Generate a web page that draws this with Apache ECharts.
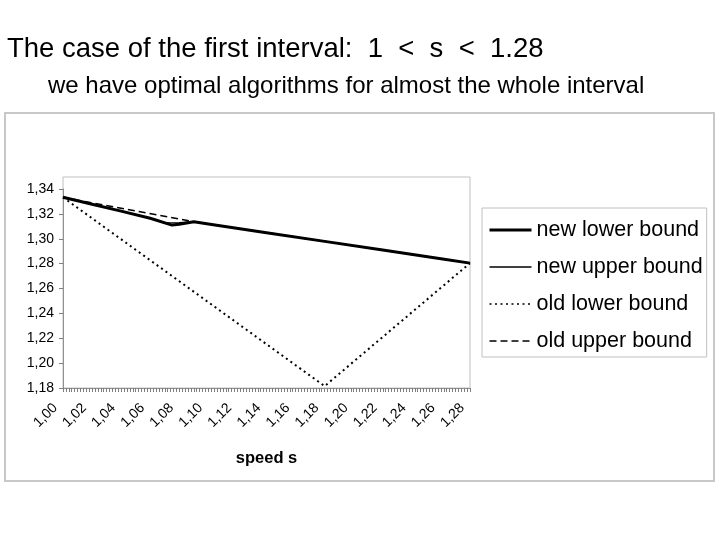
<!DOCTYPE html>
<html lang="en">
<head>
    <meta charset="UTF-8">
    <title>first interval</title>
    <script src="https://cdn.jsdelivr.net/npm/echarts@6/dist/echarts.min.js"></script>
    <style>
        body { margin: 0; background: #fff; }
        #main { width: 720px; height: 540px; }
    </style>
</head>
<body>
<div id="main"></div>
<script type="text/javascript">
    // speed s on the x axis, bound value on the y axis
    var newLowerS = [1.00, 1.01, 1.02, 1.04, 1.06, 1.075, 1.08, 1.09, 1.10, 1.14, 1.18, 1.22, 1.26, 1.28];
    var newLower  = [1.3333, 1.3305, 1.3278, 1.3222, 1.3165, 1.3110, 1.3116, 1.3136, 1.3119, 1.3049, 1.2979, 1.2909, 1.2839, 1.2804];

    var newUpperS = [1.00, 1.01, 1.02, 1.04, 1.06, 1.07, 1.08, 1.09, 1.10, 1.14, 1.18, 1.22, 1.26, 1.28];
    var newUpper  = [1.3333, 1.3305, 1.3278, 1.3222, 1.3165, 1.3128, 1.3130, 1.3137, 1.3119, 1.3049, 1.2979, 1.2909, 1.2839, 1.2804];

    var oldLowerS = [1.00, 1.18, 1.28];
    var oldLower  = [1.3333, 1.1815, 1.2804];

    var oldUpperS = [1.00, 1.09, 1.10, 1.14, 1.18, 1.22, 1.26, 1.28];
    var oldUpper  = [1.3333, 1.3137, 1.3119, 1.3049, 1.2979, 1.2909, 1.2839, 1.2804];

    var seriesNames = ['new lower bound', 'new upper bound', 'old lower bound', 'old upper bound'];

    function pairs(xs, ys) {
        var out = [];
        for (var i = 0; i < xs.length; i++) {
            out.push([xs[i], ys[i]]);
        }
        return out;
    }
    function comma(v) {
        return v.toFixed(2).replace('.', ',');
    }

    var font = 'Liberation Sans, Arial, sans-serif';
    var myChart = echarts.init(document.getElementById('main'));
    myChart.setOption({
        animation: false,
        title: [{
            text: 'The case of the first interval:  1  <  s  <  1.28',
            left: 7, top: 35, padding: 0,
            textStyle: { fontFamily: font, fontSize: 27.5, fontWeight: 'normal', color: '#000' }
        }, {
            text: 'we have optimal algorithms for almost the whole interval',
            left: 48, top: 74, padding: 0,
            textStyle: { fontFamily: font, fontSize: 24, fontWeight: 'normal', color: '#000' }
        }],
        graphic: [{
            // outer chart frame
            type: 'rect',
            shape: { x: 5, y: 113, width: 709, height: 368 },
            style: { fill: 'none', stroke: '#c8c8c8', lineWidth: 2 }
        }, {
            // plot area frame
            type: 'rect',
            shape: { x: 63, y: 177, width: 407, height: 211 },
            style: { fill: 'none', stroke: '#c0c0c0', lineWidth: 1 }
        }],
        legend: {
            data: [
                { name: seriesNames[0], lineStyle: { width: 3 } },
                { name: seriesNames[1], lineStyle: { width: 1.4 } },
                { name: seriesNames[2], lineStyle: { width: 1.5 } },
                { name: seriesNames[3], lineStyle: { width: 1.5 } }
            ],
            orient: 'vertical',
            left: 482, top: 208,
            itemWidth: 42, itemHeight: 14, itemGap: 15,
            padding: [11, 4, 5, 6],
            backgroundColor: '#fff',
            borderColor: '#c0c0c0', borderWidth: 1,
            itemStyle: { opacity: 0 },
            textStyle: { fontFamily: font, fontSize: 21.5, color: '#000' }
        },
        grid: { left: 63, right: 250, top: 189, bottom: 152 },
        xAxis: {
            type: 'value',
            min: 1.00, max: 1.28, interval: 0.02,
            name: 'speed s',
            nameLocation: 'middle',
            nameGap: 62,
            nameTextStyle: { fontFamily: font, fontSize: 16.5, fontWeight: 'bold', color: '#000' },
            axisLine: { lineStyle: { color: '#909090' } },
            axisTick: { length: 4, lineStyle: { color: '#808080' } },
            minorTick: { show: true, splitNumber: 10, length: 4, lineStyle: { color: '#808080' } },
            splitLine: { show: false },
            axisLabel: {
                rotate: 45, margin: 10,
                padding: [0, 11, 0, 0],
                fontFamily: font, fontSize: 14, color: '#000',
                formatter: comma
            }
        },
        yAxis: {
            type: 'value',
            min: 1.18, max: 1.34, interval: 0.02,
            axisLine: { show: true, lineStyle: { color: '#909090' } },
            axisTick: { show: true, length: 4, lineStyle: { color: '#808080' } },
            splitLine: { show: false },
            axisLabel: {
                margin: 9,
                fontFamily: font, fontSize: 14, color: '#000',
                formatter: comma
            }
        },
        series: [{
            name: 'new lower bound', type: 'line', symbol: 'none', z: 5,
            data: pairs(newLowerS, newLower),
            lineStyle: { color: '#000', width: 3 },
            itemStyle: { color: '#000' }
        }, {
            name: 'new upper bound', type: 'line', symbol: 'none', z: 4,
            data: pairs(newUpperS, newUpper),
            lineStyle: { color: '#000', width: 1.2 },
            itemStyle: { color: '#000' }
        }, {
            name: 'old lower bound', type: 'line', symbol: 'none', z: 3,
            data: pairs(oldLowerS, oldLower),
            lineStyle: { color: '#000', width: 2, type: [2, 3.5] },
            itemStyle: { color: '#000' }
        }, {
            name: 'old upper bound', type: 'line', symbol: 'none', z: 3,
            data: pairs(oldUpperS, oldUpper),
            lineStyle: { color: '#000', width: 1.5, type: [7, 4] },
            itemStyle: { color: '#000' }
        }]
    });
</script>
</body>
</html>
